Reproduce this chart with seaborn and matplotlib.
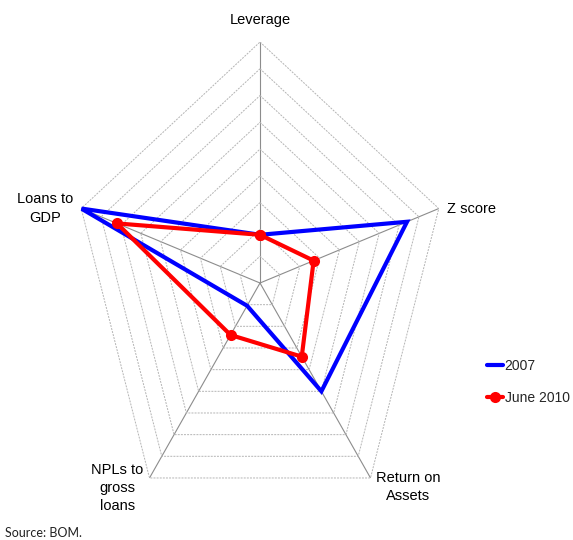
import numpy as np
import pandas as pd
import matplotlib
matplotlib.use("Agg")
import matplotlib.pyplot as plt
import seaborn as sns

# Banking-sector indicators, scaled onto a common 0-9 radar scale
categories = ["Leverage", "Z score", "Return on\nAssets", "NPLs to\ngross\nloans", "Loans to\nGDP"]
series_names = ["2007", "June 2010"]
values_2007 = [1.8, 7.4, 5.0, 1.05, 9.0]
values_2010 = [1.8, 2.7, 3.4, 2.4, 7.2]
ring_levels = list(range(1, 10))

sns.set_theme(style="white")
plt.rcParams["font.family"] = ["Liberation Sans", "DejaVu Sans"]

fig = plt.figure(figsize=(5.73, 5.40), dpi=100)
ax = fig.add_axes([72 / 573, 16 / 540, 376 / 573, 482 / 540], projection="polar")
ax.set_aspect("auto")
ax.set_theta_zero_location("N")
ax.set_theta_direction(-1)

n = len(categories)
angles = np.linspace(0, 2 * np.pi, n, endpoint=False)
closed = np.append(angles, angles[0])

# pentagon rings
for lvl in ring_levels:
    ax.plot(closed, [lvl] * (n + 1), color="#b4b4b4", lw=0.7,
            ls=(0, (2, 1.2)), zorder=1)

# spokes
ax.set_xticks(angles)
ax.set_xticklabels([])
ax.set_yticks([])
ax.xaxis.grid(True, color="#8c8c8c", lw=0.8)
ax.spines["polar"].set_visible(False)
ax.set_ylim(0, max(ring_levels))

df = pd.DataFrame({
    "theta": np.concatenate([closed, closed]),
    "value": values_2007 + values_2007[:1] + values_2010 + values_2010[:1],
    "series": [series_names[0]] * (n + 1) + [series_names[1]] * (n + 1),
})

sns.lineplot(data=df[df.series == series_names[0]], x="theta", y="value",
             color="#0000ff", lw=3, sort=False, estimator=None, ax=ax,
             label=series_names[0], solid_joinstyle="miter", zorder=3)
sns.lineplot(data=df[df.series == series_names[1]], x="theta", y="value",
             color="#ff0000", lw=3, sort=False, estimator=None, ax=ax,
             marker="o", markersize=8, markeredgewidth=0,
             label=series_names[1], solid_joinstyle="miter", zorder=4)
ax.set_xlabel("")
ax.set_ylabel("")

# axis labels around the outer ring
label_offsets = [(0, 22), (8, 0), (38, -9), (-32, -10), (-36, 0)]
label_ha = ["center", "left", "center", "center", "center"]
for ang, lab, off, ha in zip(angles, categories, label_offsets, label_ha):
    ax.annotate(lab, xy=(ang, max(ring_levels)), xytext=off,
                textcoords="offset pixels", ha=ha, va="center",
                multialignment="center", fontsize=10.5, linespacing=1.4,
                color="black", annotation_clip=False)

handles, labels = ax.get_legend_handles_labels()
ax.get_legend().remove()
fig.legend(handles, labels, loc="center left",
           bbox_to_anchor=(474 / 573, 1 - 382 / 540), frameon=False,
           handlelength=1.2, handletextpad=0.1, fontsize=10,
           labelspacing=1.3)

fig.text(5 / 573, 1 - 533 / 540, "Source: BOM.", fontsize=9,
         family=["Lato", "DejaVu Sans"], va="center", color="#222222")

fig.savefig("out.png", dpi=100)
